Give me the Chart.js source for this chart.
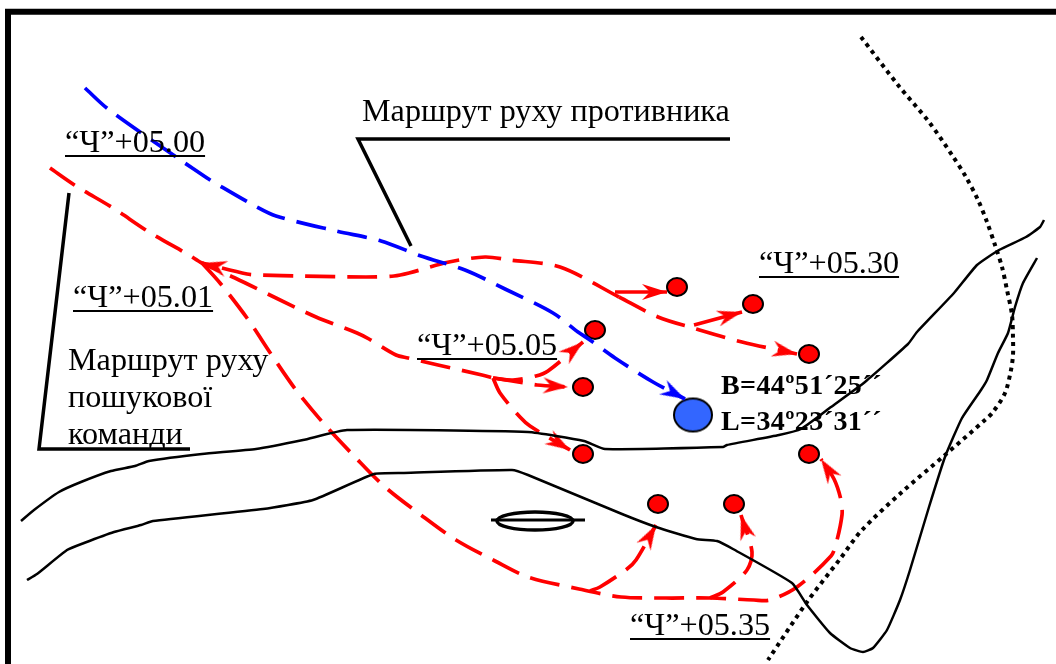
<!DOCTYPE html>
<html>
<head>
<meta charset="utf-8">
<style>
html, body { margin: 0; padding: 0; background: #fff; overflow: hidden; }
canvas { display: block; }
</style>
<script src="https://cdn.jsdelivr.net/npm/chart.js@4"></script>
</head>
<body>
<canvas id="map" width="1056" height="664"></canvas>
<script>
// routes as [x, y]
var frameLine = [[8,664],[8,11.7],[1056,11.7]];

var enemyRoute = [[85,88],[108,109],[179,159],[207,178],[215,183],[255,206],[276,216],[336,231],[381,241],[421,256],[465,270],[505,289],[553,313],[578,332],[590,340],[615,358],[653,382],[685,399]];

var teamRoute = [[50,168],[76,186],[113,208],[149,232],[189,255],[202,263],[235,278],[276,298],[316,317],[357,333],[369,339],[396,355],[408,358],[438,365],[482,375],[493,378]];
var returnRoute = [[619,297],[560,267],[510,260],[485,257],[449,262],[409,273],[394,276],[366,277],[303,276],[261,275],[247,274],[202,263]];
var eastRoute = [[619,297],[658,317],[693,328],[742,342],[797,354]];
var southRoute = [[202,263],[220,283],[247,318],[271,354],[296,390],[325,425],[355,457],[385,487],[421,515],[456,540],[495,561],[528,577],[579,589],[621,597],[666,598],[710,598],[754,600],[770,600],[797,587],[831,556],[836,544],[842,515],[841,500],[834,479],[821,459]];
var branchA = [[590,591],[600,587],[627,569],[636,560],[656,525]];
var branchB = [[710,598],[723,592],[747,570],[752,552],[741,515]];
var branchC = [[493,378],[513,380],[536,376],[548,371],[583,342]];
var branchD = [[493,378],[525,383],[537,385],[568,387]];
var branchE = [[493,378],[500,393],[520,417],[530,426],[570,450]];
var branchF = [[615,292],[667,292]];
var branchG = [[694,325],[742,312]];

var riverNorth = [[21,521],[34,510],[59,492],[81,482],[111,471],[135,466],[149,461],[202,454],[256,449],[303,440],[347,430],[528,432],[584,441],[605,449],[723,447],[727,445],[779,435],[801,429],[831,407],[865,382],[908,344],[917,332],[954,293],[977,265],[999,250],[1026,237],[1040,227],[1044,220]];
var riverSouth = [[27,580],[37,574],[67,550],[84,543],[114,532],[141,525],[153,521],[263,509],[313,500],[374,474],[404,473],[512,470],[528,475],[622,514],[656,527],[696,539],[717,541],[733,549],[792,583],[807,605],[830,633],[850,648],[863,652],[873,648],[887,630],[900,600],[910,570],[929,507],[945,457],[962,418],[981,390],[987,380],[998,353],[1008,333],[1015,307],[1023,283],[1037,258]];
var dottedRoad = [[861,37],[898,85],[929,122],[952,155],[966,177],[978,200],[987,222],[995,245],[1002,267],[1007,290],[1012,315],[1013,338],[1013,355],[1011,370],[1005,393],[993,412],[985,420],[945,455],[902,492],[862,530],[840,559],[807,602],[768,660]];

var lakeEnds = [[491,520],[585,520]];
var lakeCentre = [[535,521]];

var leaderTop = [[730,139],[358,139],[411,246]];
var leaderLeft = [[69,193],[39,449],[190,449]];

var targetPoints = [[677,287],[753,304],[595,330],[583,387],[583,454],[809,354],[809,454],[658,504],[734,504]];
var finalPoint = [[693,415]];

var timeLabels = ["“Ч”+05.00", "“Ч”+05.01", "“Ч”+05.05", "“Ч”+05.30", "“Ч”+05.35"];
var timeLabelPos = [[65,152],[73,307],[417,355],[759,273],[630,635]];
var noteLabels = ["Маршрут руху противника", "Маршрут руху", "пошукової", "команди"];
var noteLabelPos = [[362,121],[68,370],[68,407],[68,444]];
var coordLabels = ["B=44º51´25´´", "L=34º23´31´´"];
var coordLabelPos = [[721,394],[721,430]];

var toXY = function(list) {
    return list.map(function(p) { return {x: p[0], y: p[1]}; });
};

var arrowSprite = function(color) {
    var c = document.createElement("canvas");
    c.width = 54;
    c.height = 20;
    var g = c.getContext("2d");
    g.fillStyle = color;
    g.beginPath();
    g.moveTo(27, 10);
    g.lineTo(2, 2);
    g.lineTo(10, 10);
    g.lineTo(2, 18);
    g.closePath();
    g.fill();
    return c;
};

var ellipseSprite = function(color, w, h, line) {
    var c = document.createElement("canvas");
    c.width = w + 6;
    c.height = h + 6;
    var g = c.getContext("2d");
    g.fillStyle = color;
    g.strokeStyle = "#000";
    g.lineWidth = line;
    g.beginPath();
    g.ellipse(c.width / 2, c.height / 2, w / 2, h / 2, 0, 0, Math.PI * 2);
    g.fill();
    g.stroke();
    return c;
};

var redArrow = arrowSprite("#ff0000");
var blueArrow = arrowSprite("#0000ff");

// line with an arrow head on its last point, turned along the last piece
var route = function(list, color, dash, sprite) {
    var last = list.length - 1;
    var angle = Math.atan2(list[last][1] - list[last - 1][1], list[last][0] - list[last - 1][0]) * 180 / Math.PI;
    return {
        data: toXY(list),
        showLine: true,
        borderColor: color,
        borderWidth: 3.7,
        borderDash: dash,
        tension: 0.3,
        pointStyle: sprite,
        pointRotation: angle,
        pointRadius: function(ctx) { return ctx.dataIndex === last && sprite ? 5 : 0; }
    };
};

var plain = function(list, width, dash, tension) {
    return {
        data: toXY(list),
        showLine: true,
        borderColor: "#000",
        borderWidth: width,
        borderDash: dash || [],
        borderCapStyle: "butt",
        tension: tension || 0,
        pointRadius: 0
    };
};

var spots = function(list, sprite) {
    return {
        data: toXY(list),
        showLine: false,
        pointStyle: sprite,
        pointRadius: 10
    };
};

var dash = [30, 12];

var textPlugin = {
    id: "mapText",
    afterDatasetsDraw: function(chart) {
        var g = chart.ctx;
        var sx = chart.scales.x, sy = chart.scales.y;
        var put = function(texts, pos, font, underline) {
            g.font = font;
            texts.forEach(function(t, i) {
                var x = sx.getPixelForValue(pos[i][0]);
                var y = sy.getPixelForValue(pos[i][1]);
                g.fillText(t, x, y);
                if (underline) {
                    g.fillRect(x, y + 3, g.measureText(t).width, 2);
                }
            });
        };
        g.save();
        g.fillStyle = "#000";
        g.textBaseline = "alphabetic";
        put(timeLabels, timeLabelPos, "32.2px 'Liberation Serif'", true);
        put(noteLabels, noteLabelPos, "32.2px 'Liberation Serif'", false);
        g.letterSpacing = "0.4px";
        put(coordLabels, coordLabelPos, "bold 28px 'Liberation Serif'", false);
        g.restore();
    }
};

new Chart(document.getElementById("map"), {
    type: "scatter",
    data: {
        datasets: [
            plain(frameLine, 6),
            plain(riverNorth, 2.5, [], 0.15),
            plain(riverSouth, 2.5, [], 0.15),
            plain(dottedRoad, 4, [4, 4.5], 0.3),
            plain(lakeEnds, 3),
            spots(lakeCentre, ellipseSprite("#ffffff", 76, 18, 3.5)),
            plain(leaderTop, 3.5),
            plain(leaderLeft, 3.5),
            route(enemyRoute, "#0000ff", dash, blueArrow),
            route(teamRoute, "#ff0000", dash, false),
            route(returnRoute, "#ff0000", dash, redArrow),
            route(eastRoute, "#ff0000", dash, redArrow),
            route(southRoute, "#ff0000", dash, redArrow),
            route(branchA, "#ff0000", dash, redArrow),
            route(branchB, "#ff0000", dash, redArrow),
            route(branchC, "#ff0000", dash, redArrow),
            route(branchD, "#ff0000", dash, redArrow),
            route(branchE, "#ff0000", dash, redArrow),
            route(branchF, "#ff0000", [], redArrow),
            route(branchG, "#ff0000", [], redArrow),
            spots(targetPoints, ellipseSprite("#ff0000", 20, 18, 2)),
            spots(finalPoint, ellipseSprite("#3366ff", 38, 33, 2))
        ]
    },
    options: {
        responsive: false,
        animation: false,
        devicePixelRatio: 1,
        layout: { padding: 0, autoPadding: false },
        plugins: { legend: { display: false }, tooltip: { enabled: false } },
        scales: {
            x: { display: false, min: 0, max: 1056 },
            y: { display: false, min: 0, max: 664, reverse: true }
        }
    },
    plugins: [textPlugin]
});
</script>
</body>
</html>
